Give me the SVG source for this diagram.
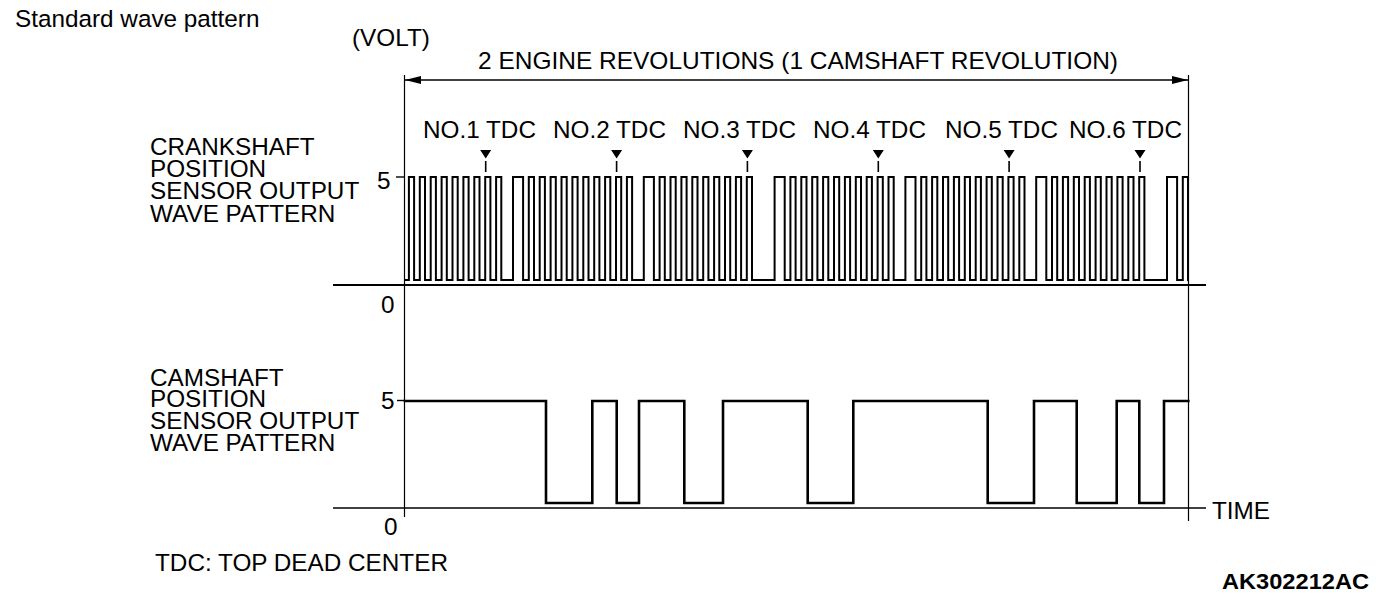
<svg xmlns="http://www.w3.org/2000/svg" width="1376" height="608" viewBox="0 0 1376 608">
<style>
text{font-family:"Liberation Sans",Arial,sans-serif;font-size:24.3px;fill:#000}
.bold{font-weight:bold;font-size:22px}
.wave{fill:none;stroke:#000;stroke-linejoin:miter;stroke-linecap:square}
.thin{stroke:#000;stroke-width:1.2;fill:none}
.tdcmark{fill:#000}
.stub{stroke:#000;stroke-width:1.6}
</style>
<defs>
<marker id="ah" viewBox="0 0 16 8" refX="16" refY="4" markerWidth="16" markerHeight="8" markerUnits="userSpaceOnUse" orient="auto-start-reverse">
<path d="M0,0 L16,4 L0,8 Z" fill="#000"/>
</marker>
</defs>
<rect width="1376" height="608" fill="#fff"/>

<g id="title"><text x="15" y="27">Standard wave pattern</text></g>
<g id="volt-label"><text x="352" y="46">(VOLT)</text></g>
<g id="revolution-label"><text x="478" y="69" textLength="640" lengthAdjust="spacingAndGlyphs">2 ENGINE REVOLUTIONS (1 CAMSHAFT REVOLUTION)</text></g>

<g id="axes">
<line class="thin" x1="404.5" y1="75" x2="404.5" y2="517"/>
<line class="thin" x1="1188.5" y1="75" x2="1188.5" y2="521" stroke-width="1"/>
<line x1="333" y1="285" x2="1206" y2="285" stroke="#000" stroke-width="2"/>
<line x1="333" y1="508" x2="1206" y2="508" stroke="#000" stroke-width="1.4"/>
<line x1="396" y1="177" x2="405" y2="177" stroke="#000" stroke-width="1.4"/>
<line x1="397" y1="400.5" x2="405" y2="400.5" stroke="#000" stroke-width="1.4"/>
<text x="377" y="189">5</text>
<text x="381" y="313">0</text>
<text x="381" y="408.5">5</text>
<text x="384" y="535">0</text>
<text x="1212" y="519">TIME</text>
</g>

<g id="connectors">
<line x1="405" y1="80" x2="1188" y2="80" stroke="#000" stroke-width="1.5" marker-start="url(#ah)" marker-end="url(#ah)"/>
</g>

<g id="tdc-markers">
<text x="423" y="138">NO.1 TDC</text>
<text x="553" y="138">NO.2 TDC</text>
<text x="683" y="138">NO.3 TDC</text>
<text x="813" y="138">NO.4 TDC</text>
<text x="945" y="138">NO.5 TDC</text>
<text x="1069" y="138">NO.6 TDC</text>
<path class="tdcmark" d="M480.2,150 h11 l-5.5,8.5 z M611.1,150 h11 l-5.5,8.5 z M741.9,150 h11 l-5.5,8.5 z M872.8,150 h11 l-5.5,8.5 z M1003.6,150 h11 l-5.5,8.5 z M1134.5,150 h11 l-5.5,8.5 z"/>
<path class="stub" d="M485.7,161 V172 M616.6,161 V172 M747.4,161 V172 M878.3,161 V172 M1009.1,161 V172 M1140,161 V172"/>
</g>

<g id="crankshaft-label">
<text x="150" y="155">CRANKSHAFT</text>
<text x="150" y="177">POSITION</text>
<text x="150" y="199">SENSOR OUTPUT</text>
<text x="150" y="222">WAVE PATTERN</text>
</g>

<g id="crankshaft-wave">
<path class="wave" stroke-width="2" d="M405,280 h3.9
v-103h5.2v103h5.7 v-103h5.2v103h5.7 v-103h5.2v103h5.7 v-103h5.2v103h5.7 v-103h5.2v103h5.7 v-103h5.2v103h5.7 v-103h5.2v103h5.7 v-103h5.2v103h5.7 v-103h5.2v103h5.7
h6v-103h10.1v103h5.7
v-103h5.2v103h5.7 v-103h5.2v103h5.7 v-103h5.2v103h5.7 v-103h5.2v103h5.7 v-103h5.2v103h5.7 v-103h5.2v103h5.7 v-103h5.2v103h5.7 v-103h5.2v103h5.7 v-103h5.2v103h5.7 v-103h5.2v103h5.7
h6v-103h10.1v103h5.7
v-103h5.2v103h5.7 v-103h5.2v103h5.7 v-103h5.2v103h5.7 v-103h5.2v103h5.7 v-103h5.2v103h5.7 v-103h5.2v103h5.7 v-103h5.2v103h5.7 v-103h5.2v103h5.7 v-103h5.2v103h5.7
h10.9
h6v-103h10.1v103h5.7
v-103h5.2v103h5.7 v-103h5.2v103h5.7 v-103h5.2v103h5.7 v-103h5.2v103h5.7 v-103h5.2v103h5.7 v-103h5.2v103h5.7 v-103h5.2v103h5.7 v-103h5.2v103h5.7 v-103h5.2v103h5.7 v-103h5.2v103h5.7
h6v-103h10.1v103h5.7
v-103h5.2v103h5.7 v-103h5.2v103h5.7 v-103h5.2v103h5.7 v-103h5.2v103h5.7 v-103h5.2v103h5.7 v-103h5.2v103h5.7 v-103h5.2v103h5.7 v-103h5.2v103h5.7 v-103h5.2v103h5.7 v-103h5.2v103h5.7
h6v-103h10.1v103h5.7
v-103h5.2v103h5.7 v-103h5.2v103h5.7 v-103h5.2v103h5.7 v-103h5.2v103h5.7 v-103h5.2v103h5.7 v-103h5.2v103h5.7 v-103h5.2v103h5.7 v-103h5.2v103h5.7 v-103h5.2v103h5.7
h10.9
h6v-103h10.1v103h5.7
v-103h5.2v103"/>
</g>

<g id="camshaft-label">
<text x="150" y="386">CAMSHAFT</text>
<text x="150" y="407">POSITION</text>
<text x="150" y="429">SENSOR OUTPUT</text>
<text x="150" y="451">WAVE PATTERN</text>
</g>

<g id="camshaft-wave">
<path class="wave" stroke-width="2.6" d="M405,401 H546 V503 H592.3 V401 H616.7 V503 H639 V401 H684.3 V503 H723 V401 H807.7 V503 H853.3 V401 H987.7 V503 H1034 V401 H1076.7 V503 H1116.7 V401 H1139.3 V503 H1164 V401 H1188.3"/>
</g>

<g id="footnote"><text x="155" y="571">TDC: TOP DEAD CENTER</text></g>
<g id="figure-code"><text class="bold" x="1222" y="589" textLength="147" lengthAdjust="spacingAndGlyphs">AK302212AC</text></g>
</svg>
